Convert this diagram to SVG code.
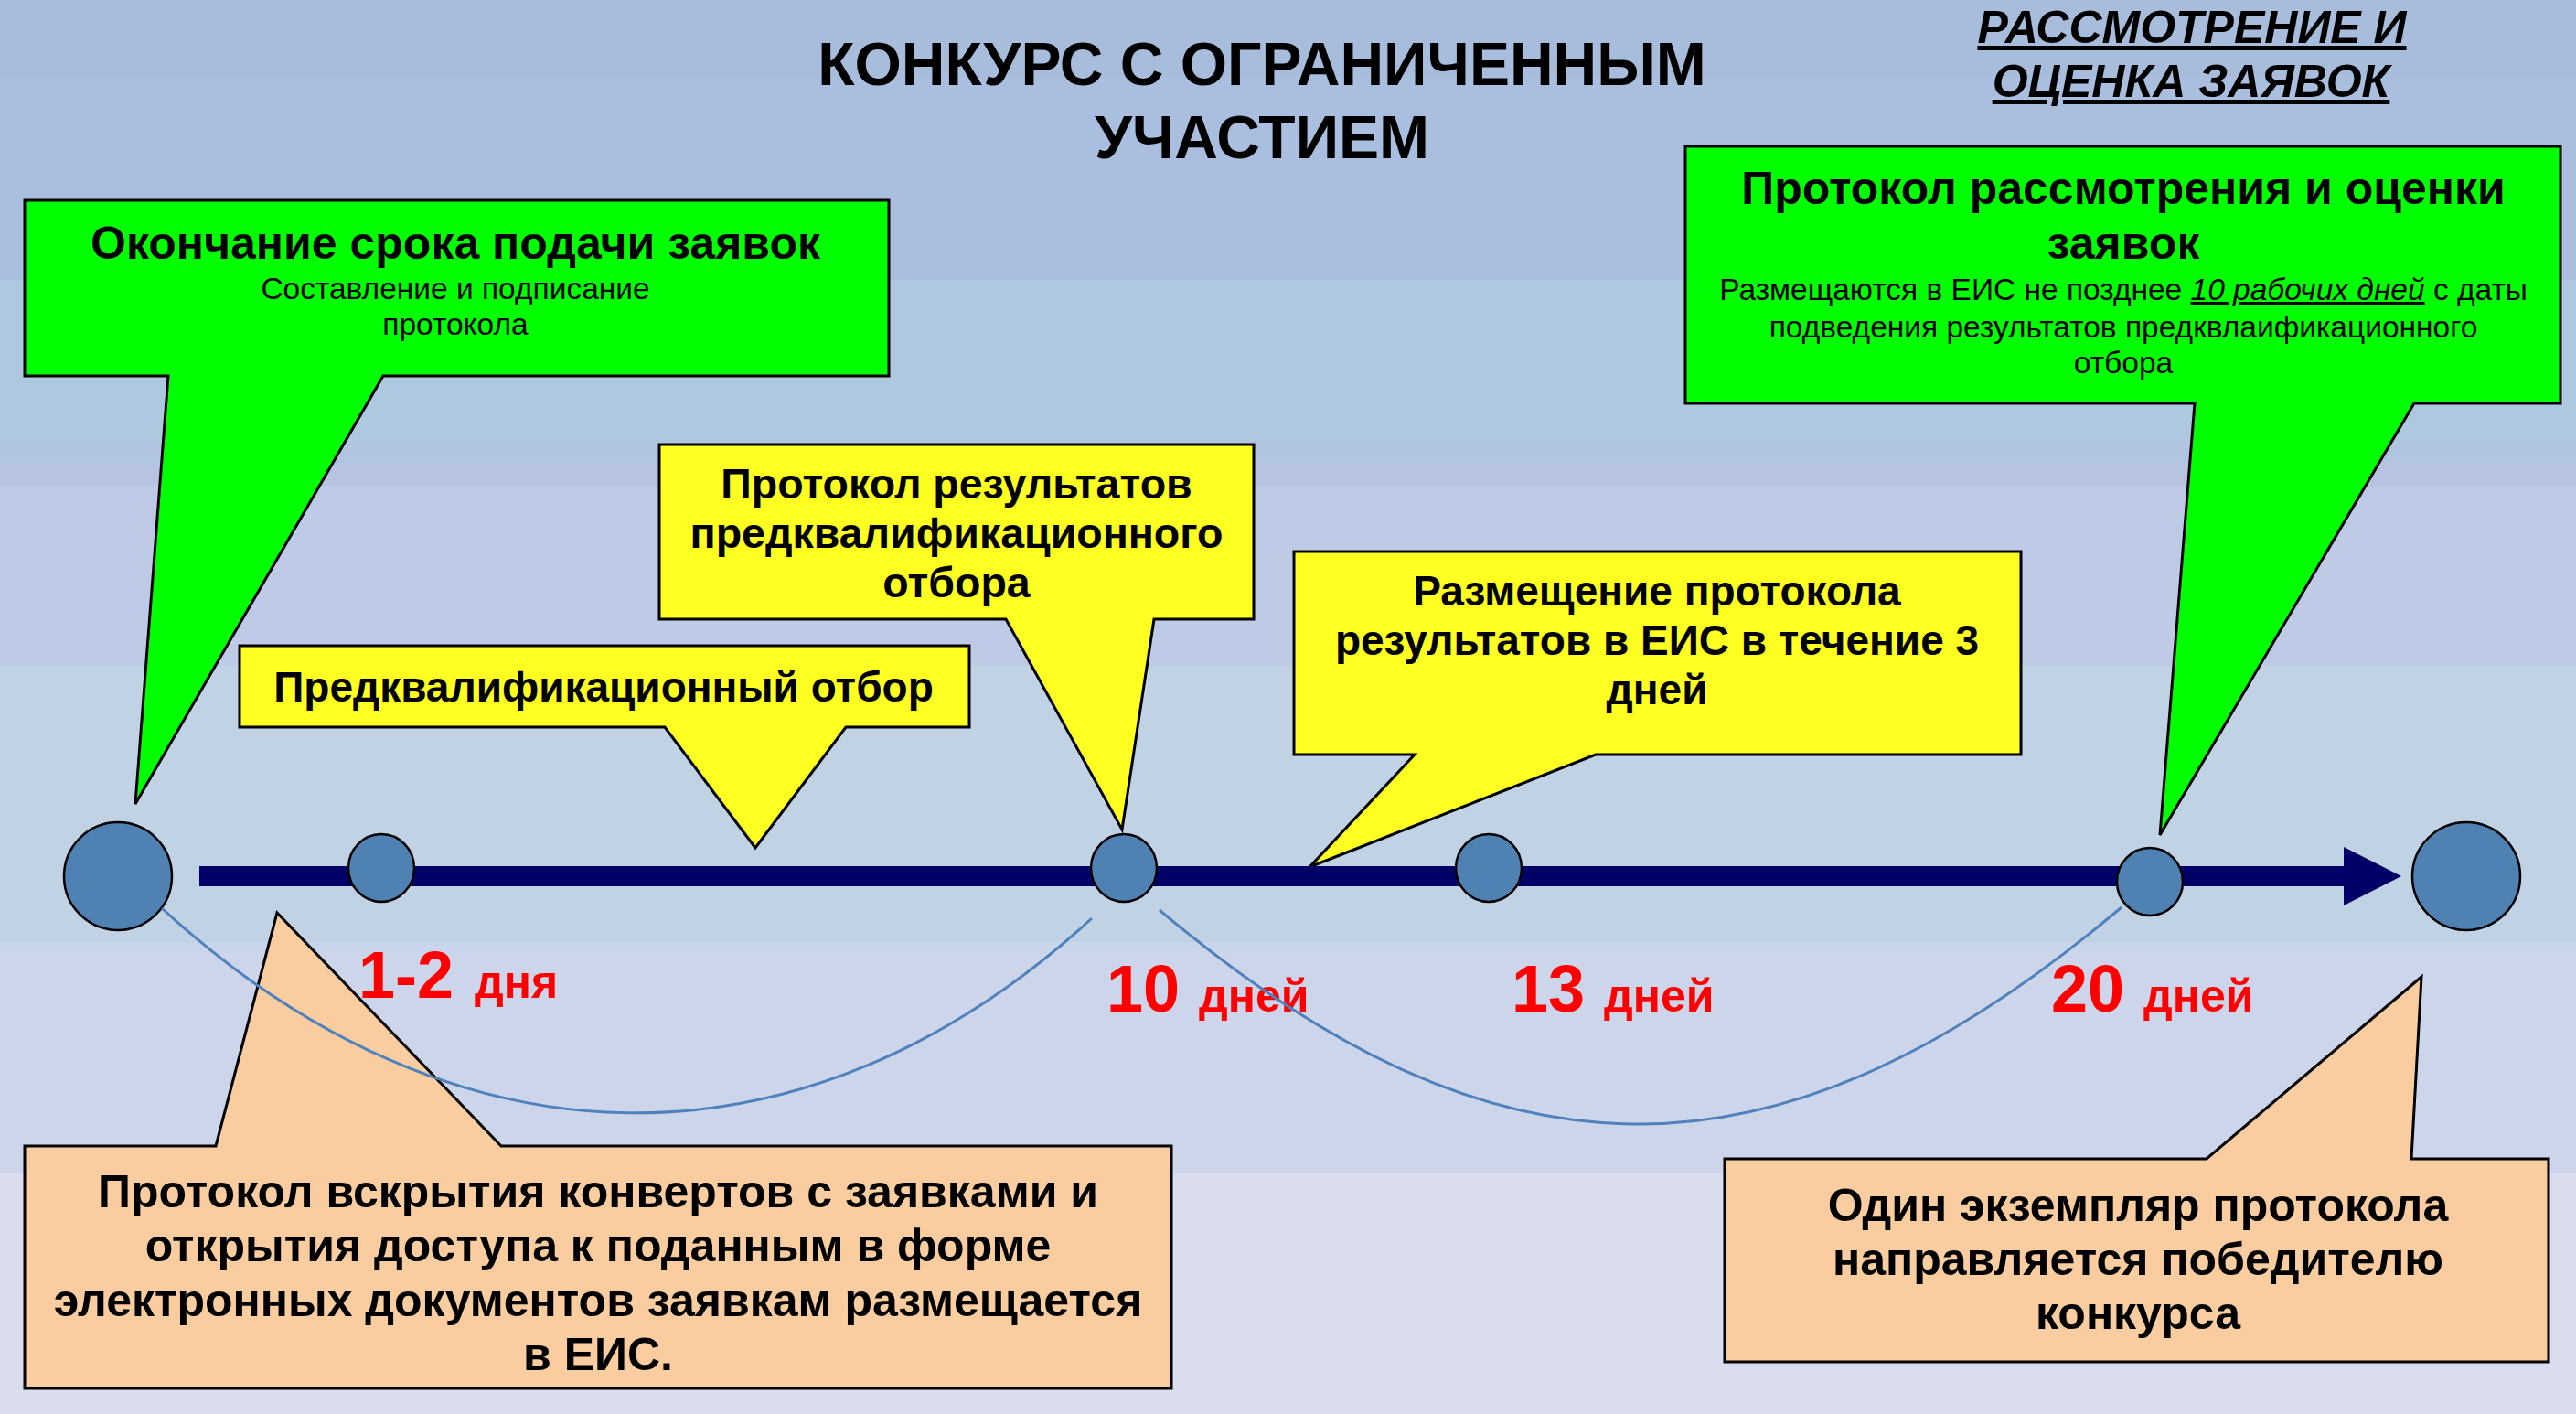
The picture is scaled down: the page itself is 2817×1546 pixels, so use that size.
<svg xmlns="http://www.w3.org/2000/svg" width="2817" height="1546" viewBox="0 0 2817 1546">
<style>
.t{font-family:"Liberation Sans",Arial,sans-serif;fill:#000}
.b{font-weight:bold}
.c{text-anchor:middle}
.box{stroke:#000;stroke-width:3;stroke-linejoin:miter}
.g{fill:#00FF00}
.y{fill:#FFFF21}
.p{fill:#FACDA0}
.dot{fill:#4F81B3;stroke:#000;stroke-width:2.5}
.arc{fill:none;stroke:#4F81BD;stroke-width:3}
.red{font-family:"Liberation Sans",Arial,sans-serif;font-weight:bold;fill:#FF0000}
</style>
<g id="background">
<rect x="0" y="0" width="2817" height="84" fill="#A8BCDB"/>
<rect x="0" y="84" width="2817" height="222" fill="#AABFDF"/>
<rect x="0" y="306" width="2817" height="175" fill="#ADC8DF"/>
<rect x="0" y="481" width="2817" height="25" fill="#B2C5E0"/>
<rect x="0" y="506" width="2817" height="26" fill="#B8C2E1"/>
<rect x="0" y="532" width="2817" height="196" fill="#BFCAE6"/>
<rect x="0" y="728" width="2817" height="302" fill="#C0D2E4"/>
<rect x="0" y="1030" width="2817" height="12" fill="#C8D5EA"/>
<rect x="0" y="1042" width="2817" height="240" fill="#CDD5EA"/>
<rect x="0" y="1282" width="2817" height="264" fill="#D9DDEE"/>
</g>
<g id="title">
<text class="t b c" x="1380" y="93" font-size="66">КОНКУРС С ОГРАНИЧЕННЫМ</text>
<text class="t b c" x="1380" y="173" font-size="66">УЧАСТИЕМ</text>
</g>
<g id="heading-right">
<text class="t b c" x="2397" y="47" font-size="50" font-style="italic" text-decoration="underline">РАССМОТРЕНИЕ И</text>
<text class="t b c" x="2396" y="106" font-size="50" font-style="italic" text-decoration="underline">ОЦЕНКА ЗАЯВОК</text>
</g>
<g id="callout-deadline">
<polygon class="box g" points="27,219 972,219 972,411 419,411 148,879 184,411 27,411"/>
<text class="t b c" x="498" y="283" font-size="50">Окончание срока подачи заявок</text>
<text class="t c" x="498" y="327" font-size="33.5">Составление и подписание</text>
<text class="t c" x="498" y="366" font-size="33.5">протокола</text>
</g>
<g id="callout-prequal-protocol">
<polygon class="box y" points="721,486 1371,486 1371,677 1262,677 1227,907 1100,677 721,677"/>
<text class="t b c" x="1046" y="545" font-size="46.5">Протокол результатов</text>
<text class="t b c" x="1046" y="599" font-size="46.5">предквалификационного</text>
<text class="t b c" x="1046" y="653" font-size="46.5">отбора</text>
</g>
<g id="callout-prequal">
<polygon class="box y" points="262,706 1060,706 1060,795 925,795 826,927 727,795 262,795"/>
<text class="t b c" x="660" y="767" font-size="46">Предквалификационный отбор</text>
</g>
<g id="callout-publish">
<polygon class="box y" points="1415,603 2210,603 2210,825 1745,825 1432,948 1547,825 1415,825"/>
<text class="t b c" x="1812" y="662" font-size="46">Размещение протокола</text>
<text class="t b c" x="1812" y="716" font-size="46">результатов в ЕИС в течение 3</text>
<text class="t b c" x="1812" y="770" font-size="46">дней</text>
</g>
<g id="callout-evaluation">
<polygon class="box g" points="1843,160 2800,160 2800,441 2640,441 2362,913 2400,441 1843,441"/>
<text class="t b c" x="2322" y="223" font-size="50">Протокол рассмотрения и оценки</text>
<text class="t b c" x="2322" y="283" font-size="50">заявок</text>
<text class="t c" x="2322" y="328" font-size="33.5">Размещаются в ЕИС не позднее <tspan font-style="italic" text-decoration="underline">10 рабочих дней</tspan> с даты</text>
<text class="t c" x="2322" y="369" font-size="33.5">подведения результатов предквлаификационного</text>
<text class="t c" x="2322" y="408" font-size="33.5">отбора</text>
</g>
<g id="callout-opening">
<polygon class="box p" points="27,1253 236,1253 303,998 548,1253 1281,1253 1281,1518 27,1518"/>
<text class="t b c" x="654" y="1320" font-size="50">Протокол вскрытия конвертов с заявками и</text>
<text class="t b c" x="654" y="1379" font-size="50">открытия доступа к поданным в форме</text>
<text class="t b c" x="654" y="1439" font-size="50">электронных документов заявкам размещается</text>
<text class="t b c" x="654" y="1498" font-size="50">в ЕИС.</text>
</g>
<g id="callout-winner">
<polygon class="box p" points="1886,1267 2413,1267 2648,1068 2637,1267 2787,1267 2787,1489 1886,1489"/>
<text class="t b c" x="2338" y="1335" font-size="50">Один экземпляр протокола</text>
<text class="t b c" x="2338" y="1394" font-size="50">направляется победителю</text>
<text class="t b c" x="2338" y="1453" font-size="50">конкурса</text>
</g>
<g id="connectors">
<rect x="218" y="947" width="2346" height="22" fill="#000066"/>
<polygon points="2563,926 2626,958 2563,990" fill="#000066"/>
</g>
<g id="node-start"><circle class="dot" cx="129" cy="958" r="59"/></g>
<g id="node-1"><ellipse class="dot" cx="417" cy="949" rx="36" ry="37"/></g>
<g id="node-2"><ellipse class="dot" cx="1229" cy="949" rx="36" ry="37"/></g>
<g id="node-3"><ellipse class="dot" cx="1628" cy="949" rx="36" ry="37"/></g>
<g id="node-4"><ellipse class="dot" cx="2351" cy="964" rx="36" ry="37"/></g>
<g id="node-end"><circle class="dot" cx="2697" cy="958" r="59"/></g>
<g id="labels">
<text class="red" x="392" y="1091" font-size="72">1-2</text>
<text class="red" x="519" y="1091" font-size="50">дня</text>
<text class="red" x="1210" y="1106" font-size="72">10</text>
<text class="red" x="1311" y="1106" font-size="50">дней</text>
<text class="red" x="1653" y="1106" font-size="72">13</text>
<text class="red" x="1754" y="1106" font-size="50">дней</text>
<text class="red" x="2243" y="1106" font-size="72">20</text>
<text class="red" x="2344" y="1106" font-size="50">дней</text>
</g>
<g id="arcs">
<path class="arc" d="M177,993 C494,1284 877,1295 1194,1004"/>
<path class="arc" d="M1268,995 C1640,1309 1948,1306 2320,992"/>
</g>
</svg>
